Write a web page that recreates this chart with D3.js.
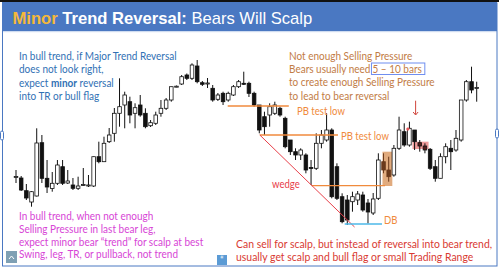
<!DOCTYPE html>
<html>
<head>
<meta charset="utf-8">
<script src="https://cdn.jsdelivr.net/npm/d3@7"></script>
<style>
  body { margin: 0; background: #fff; }
  svg { display: block; }
</style>
</head>
<body>
<div id="chart"></div>
<script>
// candle data (price units, higher = up)
var opens  = [73,72,59.3,48,54,107.3,71.7,61.5,66.7,83.3,67,65,61.7,65,64.5,64,93.3,88.3,108.3,116.7,
              136.7,145,148.3,136.7,145,136.7,124.3,126.7,136.7,141.7,150,163.3,166,175,171.7,184,167.3,166,161.7,150.7,
              156.7,150,155,163.3,166.7,166.7,156.7,145,133.3,135,136.7,141.7,131.7,110,98.3,95,95,82.5,81.7,106.7,
              110,120,83.3,53.3,50,48.3,50,55,47,37,51.7,88.3,80,75,101.7,118.3,105,120,107.3,104,
              100.7,83.3,71.7,93.3,101.7,100,110,150,168.3,162];
var closes = [73.5,60,52,58.3,107,71.7,63,66.7,85,66.7,69,61.7,64,65.5,65,93.3,88.3,106.7,115,136.7,
              143.3,155,135,142.3,135,123.3,127.3,135,141.7,150,163.3,163.8,173.3,171.7,185,168.3,165.7,167,150,155,
              148.3,156.7,163.3,168.3,166,156.7,145,120,123.3,143.3,145,135,103.3,98.3,95,100,80,82,106.7,115,
              120,53.3,51.7,28.3,30,53.3,56,40,38,51,90,80,73.3,101.7,120,105,121.7,108.3,104,100,
              81.7,71.7,93.3,103.3,98.3,111.7,150,168.3,160,162.5];
var highs  = [80,74,66,59,121.7,115,90,78,90,90,80,72,73.3,82,75,93.5,108.3,113.3,122,142,
              171.7,158.3,153.3,146.7,155,141.7,130,138.3,150,152,163.3,164.5,175,176.5,186.7,190,169,172,165,157,
              158.3,158.3,165,170,178.3,168.3,158.3,145,138.3,146.7,148.3,143.3,133.3,110,101.7,101.7,96.7,90,116.7,120,
              136.7,121.7,86.7,56.7,55,58.3,59,58.3,51,57,96.7,96.7,93.3,105,133.3,126.7,128.3,120,110,106.7,
              102,90,96.7,106.7,110,120,150,170,183.3,168.3];
var lows   = [67,59,50,43.3,53.5,67,57,58.3,65,65,66,60,60,64,63,63,86.7,88,107,108.3,
              123.3,121.7,126.7,121.7,133.3,121.7,123,125,133.3,140,148.3,162.8,165,170,170,166.7,164,162,148.3,149,
              145,148.3,154,162,165,153,143.3,116.7,115,123.3,135,133.3,101.7,95,90,90,76.7,65,80,101.7,
              108.3,51.7,50,26.7,25,38.3,45,38.3,26.5,35,50,76.7,68.3,73.3,100,103.3,103.3,100,98.3,96.7,
              80,68.3,71.7,86.7,80,98.3,108.3,148.3,156.7,148.3];
// candles with a coloured fill in the picture
var brownBars = [71, 72];
var pinkBars = [78, 79];

// annotation levels (price) and spans (bar index)
var pbLevels = [
  { from: 40.9, to: 52.7, price: 144, label: "PB test low", lx: 297, ly: 114.5 },
  { from: 47.1, to: 62.2, price: 115, label: "PB test low", lx: 341, ly: 139.5 },
  { from: 57.1, to: 71.3, price: 64.3, label: "", lx: 0, ly: 0 }
];
var wedge = [[47.1, 115], [65.4, 23]];
var dbLine = { from: 63.5, to: 70.7, price: 26 };

var blueLines = ["In bull trend, if Major Trend Reversal", "does not look right,", "expect |minor| reversal", "into TR or bull flag"];
var orangeLines = ["Not enough Selling Pressure", "Bears usually need ", "to create enough Selling Pressure", "to lead to bear reversal"];
var pinkLines = ["In bull trend, when not enough", "Selling Pressure in last bear leg,", "expect minor bear \u201ctrend\u201d for scalp at best", "Swing, leg, TR, or pullback, not trend"];
var redLines = ["Can sell for scalp, but instead of reversal into bear trend,", "usually get scalp and bull flag or small Trading Range"];

var svgWidth = 499, svgHeight = 268;
var bodyFont = "Lato, 'Open Sans', sans-serif";
var squeeze = 0.87;   // Lato is wider than the original font

var svg = d3.select("#chart").append("svg")
  .attr("width", svgWidth)
  .attr("height", svgHeight);

// frame and title bar
svg.append("rect").attr("width", svgWidth).attr("height", svgHeight).attr("fill", "#fff");
svg.append("rect").attr("x", 0).attr("y", 0).attr("width", svgWidth).attr("height", 2).attr("fill", "#111");
svg.append("rect").attr("x", 2).attr("y", 2).attr("width", 495).attr("height", 29).attr("fill", "#4a78c2");
svg.append("rect").attr("x", 2).attr("y", 31).attr("width", 495).attr("height", 1.2).attr("fill", "#cfdcf0");
svg.append("rect").attr("x", 2.5).attr("y", 3).attr("width", 494.5).attr("height", 263)
  .attr("fill", "none").attr("stroke", "#4a78c2").attr("stroke-width", 1);

var title = svg.append("text").attr("x", 12.5).attr("y", 24)
  .attr("font-family", "'Liberation Sans', Arial, sans-serif")
  .attr("font-size", 16.6);
title.append("tspan").attr("fill", "#f5b83a").attr("font-weight", "bold").text("Minor ");
title.append("tspan").attr("fill", "#fff").attr("font-weight", "bold").text("Trend Reversal: ");
title.append("tspan").attr("fill", "#fff").text("Bears Will Scalp");

// helper for the narrow body text
function label(x0, y0, str, color, size) {
  var t = svg.append("text")
    .attr("transform", `translate(${x0},${y0}) scale(${squeeze},1)`)
    .attr("font-family", bodyFont).attr("font-size", size || 11.5).attr("fill", color);
  str.split("|").forEach(function(part, j) {
    t.append("tspan").attr("font-weight", j % 2 ? "bold" : null).text(part);
  });
  return t;
}

// scales
var idx = d3.range(opens.length);
var x = d3.scaleLinear().domain([0, opens.length - 1]).range([16, 476.7]);
var y = d3.scaleLinear().domain([0, 250]).range([250, 0]);
var bw = 3.6;

// annotation boxes behind candles
svg.append("rect")
  .attr("x", x(70.8)).attr("y", y(98.3))
  .attr("width", x(72.7) - x(70.8)).attr("height", y(64) - y(98.3))
  .attr("fill", "#d9965e").attr("opacity", 0.8);
svg.append("rect")
  .attr("x", x(76.6)).attr("y", y(108.3))
  .attr("width", x(79.7) - x(76.6)).attr("height", y(101) - y(108.3))
  .attr("fill", "#ec8a8a").attr("opacity", 0.85);

// candles
var candles = svg.append("g").selectAll("g.candle")
  .data(idx)
  .enter()
  .append("g");

candles.append("line")
  .attr("x1", d => x(d)).attr("x2", d => x(d))
  .attr("y1", d => y(highs[d])).attr("y2", d => y(lows[d]))
  .attr("stroke", d => brownBars.includes(d) ? "#6b3a1c" : "#111")
  .attr("stroke-width", 1);

candles.append("rect")
  .attr("x", d => x(d) - bw / 2)
  .attr("y", d => y(Math.max(opens[d], closes[d])))
  .attr("width", bw)
  .attr("height", d => Math.max(1, Math.abs(y(opens[d]) - y(closes[d]))))
  .attr("fill", function(d) {
    if (brownBars.includes(d)) return "#6b3a1c";
    if (pinkBars.includes(d)) return "#5a1c1c";
    return closes[d] >= opens[d] ? "#fff" : "#111";
  })
  .attr("stroke", d => brownBars.includes(d) ? "#6b3a1c" : "#111")
  .attr("stroke-width", 0.8);

// pink dot
svg.append("circle").attr("cx", x(75.7)).attr("cy", y(121)).attr("r", 1.6).attr("fill", "#e8575a");

// orange pullback lines
pbLevels.forEach(function(p) {
  svg.append("line")
    .attr("x1", x(p.from)).attr("x2", x(p.to))
    .attr("y1", y(p.price)).attr("y2", y(p.price))
    .attr("stroke", "#f08a3c").attr("stroke-width", 1.3);
  if (p.label) label(p.lx, p.ly, p.label, "#f08a3c", 11);
});

// wedge line
svg.append("line")
  .attr("x1", x(wedge[0][0])).attr("y1", y(wedge[0][1]))
  .attr("x2", x(wedge[1][0])).attr("y2", y(wedge[1][1]))
  .attr("stroke", "#e8404a").attr("stroke-width", 1);
label(272, 188, "wedge", "#e8404a", 11);

// double bottom
svg.append("line")
  .attr("x1", x(dbLine.from)).attr("x2", x(dbLine.to))
  .attr("y1", y(dbLine.price)).attr("y2", y(dbLine.price))
  .attr("stroke", "#4db8e8").attr("stroke-width", 1.3);
label(384, 224, "DB", "#f08a3c", 11);

// red arrow
svg.append("line")
  .attr("x1", x(77.2)).attr("x2", x(77.2))
  .attr("y1", y(149.3)).attr("y2", y(135.5))
  .attr("stroke", "#d0453c").attr("stroke-width", 1);
svg.append("path")
  .attr("d", `M${x(77.2) - 2.5},${y(138)} L${x(77.2)},${y(135)} L${x(77.2) + 2.5},${y(138)}`)
  .attr("fill", "none").attr("stroke", "#d0453c").attr("stroke-width", 1);

// text blocks
function textBlock(lines, x0, y0, dy, color, size) {
  return lines.map((line, i) => label(x0, y0 + i * dy, line, color, size));
}

textBlock(blueLines, 19, 60, 13.4, "#3070b4");
var orangeTexts = textBlock(orangeLines, 289, 59.5, 13.4, "#c27c45");
textBlock(pinkLines, 19, 220, 12.8, "#d745d6");
textBlock(redLines, 236, 247.5, 13, "#d93a32", 12);

// boxed "5 – 10 bars" after the second orange line
var w = orangeTexts[1].node().getComputedTextLength() * squeeze;
var boxed = label(289 + w + 2, 59.5 + 13.4, "5 \u2013 10 bars", "#c27c45");
var bw2 = boxed.node().getComputedTextLength() * squeeze;
svg.append("rect").attr("x", 289 + w + 1).attr("y", 63).attr("width", bw2 + 4).attr("height", 11.5)
  .attr("fill", "none").attr("stroke", "#6f8ef0").attr("stroke-width", 1);

// small UI handles
svg.append("rect").attr("x", 6).attr("y", 251).attr("width", 11).attr("height", 12).attr("fill", "#7fa0b4");
svg.append("path").attr("d", "M9,259 L11.5,256 L14,259").attr("fill", "none").attr("stroke", "#fff").attr("stroke-width", 1);
svg.append("rect").attr("x", 217).attr("y", 255).attr("width", 10).attr("height", 10).attr("fill", "#5b9bd5");
svg.append("text").attr("x", 222).attr("y", 263).attr("text-anchor", "middle")
  .attr("font-family", bodyFont).attr("font-size", 9).attr("fill", "#fff").text("\u201c");
svg.append("rect").attr("x", 0.5).attr("y", 131).attr("width", 3).attr("height", 9).attr("rx", 1.5)
  .attr("fill", "#fff").attr("stroke", "#4a78c2");
svg.append("rect").attr("x", 495.5).attr("y", 129).attr("width", 3).attr("height", 9).attr("rx", 1.5)
  .attr("fill", "#fff").attr("stroke", "#4a78c2");
</script>
</body>
</html>
